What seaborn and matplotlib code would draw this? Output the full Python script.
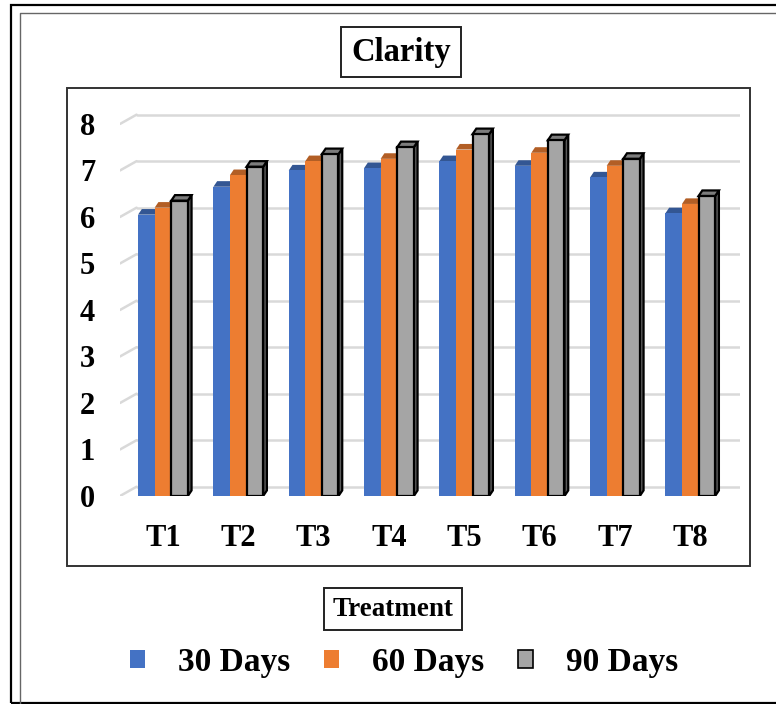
import pandas as pd
import numpy as np
import matplotlib.pyplot as plt
import seaborn as sns
from matplotlib.patches import Polygon, Rectangle
from matplotlib.lines import Line2D
from matplotlib.colors import to_rgb

# values
treatments = ['T1', 'T2', 'T3', 'T4', 'T5', 'T6', 'T7', 'T8']
days_30 = [6.05, 6.65, 7.0, 7.05, 7.2, 7.1, 6.85, 6.08]
days_60 = [6.2, 6.9, 7.2, 7.25, 7.45, 7.38, 7.1, 6.28]
days_90 = [6.35, 7.08, 7.35, 7.5, 7.78, 7.65, 7.25, 6.45]
series = ['30 Days', '60 Days', '90 Days']
colors = ['#4472C4', '#ED7D31', '#A5A5A5']

df = pd.DataFrame({'Treatment': treatments, '30 Days': days_30,
                   '60 Days': days_60, '90 Days': days_90})
df = df.melt(id_vars='Treatment', var_name='Period', value_name='Clarity')

sns.set_style("white")
plt.rcParams['font.family'] = ['Liberation Serif', 'DejaVu Serif']
plt.rcParams['font.weight'] = 'bold'
plt.rcParams['text.color'] = 'black'
plt.rcParams['xtick.color'] = 'black'
plt.rcParams['ytick.color'] = 'black'

fig = plt.figure(figsize=(7.76, 7.04), dpi=100)
ax = fig.add_axes([120/776, 208/704, 620/776, 386/704])
sns.barplot(data=df, x='Treatment', y='Clarity', hue='Period', palette=colors,
            width=0.66, saturation=1, ax=ax, legend=False, zorder=3)

# fake 3D faces built from the drawn bars
dx, dy = 0.05, 0.12
nb = len(treatments)
for i, p in enumerate(ax.patches[:nb*3]):
    k = i // nb
    x, w, h = p.get_x(), p.get_width(), p.get_height()
    base = np.array(to_rgb(colors[k]))
    edge = 'black' if k == 2 else 'none'
    lw = 1.6 if k == 2 else 0
    p.set_zorder(3 + k)
    p.set_edgecolor(edge)
    p.set_linewidth(lw)
    side = Polygon([(x+w, 0), (x+w+dx, dy), (x+w+dx, h+dy), (x+w, h)],
                   closed=True, facecolor=base*0.55, edgecolor=edge, lw=lw, zorder=2.9+k)
    top = Polygon([(x, h), (x+dx, h+dy), (x+w+dx, h+dy), (x+w, h)],
                  closed=True, facecolor=base*0.75, edgecolor=edge, lw=lw, zorder=2.9+k)
    ax.add_patch(side)
    ax.add_patch(top)

ax.set_ylim(0, 8.3)
ax.set_xlim(-0.57, 7.66)
ax.set_yticks(range(0, 9))
for v in range(0, 9):
    ax.plot([-0.57, -0.35], [v, v+0.2], color='#d9d9d9', lw=1.8, zorder=1)
    ax.plot([-0.35, 7.66], [v+0.2, v+0.2], color='#d9d9d9', lw=1.8, zorder=1)
for s in ax.spines.values():
    s.set_visible(False)
ax.tick_params(axis='both', length=0, labelsize=22)
ax.tick_params(axis='y', pad=18)
ax.tick_params(axis='x', pad=20)
ax.set_xlabel('')
ax.set_ylabel('')

# frames
fig.add_artist(Rectangle((11/776, 1.5/704), 800/776, 697.5/704, transform=fig.transFigure,
                         fill=False, edgecolor='black', lw=1.6))
fig.add_artist(Line2D([20/776, 20/776, 1], [0, 1 - 13/704, 1 - 13/704],
                      transform=fig.transFigure, color='#666666', lw=1.0))
fig.add_artist(Rectangle((67/776, (704-566)/704), 683/776, 478/704, transform=fig.transFigure,
                         fill=False, edgecolor='#333333', lw=1.4))

fig.text(401/776, 1 - 52/704, 'Clarity', ha='center', va='center', fontsize=23.5,
         fontweight='bold', bbox=dict(boxstyle='square,pad=0.3', fc='white', ec='#222222', lw=1.4))
fig.text(393/776, 1 - 609/704, 'Treatment', ha='center', va='center', fontsize=19.5,
         fontweight='bold', bbox=dict(boxstyle='square,pad=0.3', fc='white', ec='#222222', lw=1.4))

handles = [Rectangle((0, 0), 1, 1, facecolor=c, edgecolor=('black' if j == 2 else 'none'), lw=1.2)
           for j, c in enumerate(colors)]
fig.legend(handles, series, loc='center', bbox_to_anchor=(404/776, 1 - 662/704), ncol=3,
           frameon=False, fontsize=24, handlelength=0.45, handleheight=0.45,
           handletextpad=1.0, columnspacing=1.0)

fig.savefig('out.png', dpi=100)
